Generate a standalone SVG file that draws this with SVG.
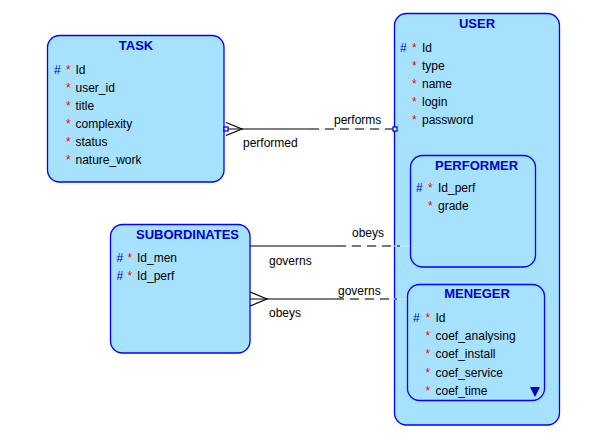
<svg xmlns="http://www.w3.org/2000/svg" width="594" height="448" viewBox="0 0 594 448">
<style>
.box{fill:#a6e1fd;stroke:#0000ff;stroke-width:1.3}
.ttl{font-family:"Liberation Sans",Arial,sans-serif;font-size:13px;font-weight:bold;fill:#0000cc;text-anchor:middle}
.t{font-family:"Liberation Sans",Arial,sans-serif;font-size:12px;fill:#000}
.h{font-family:"Liberation Sans",Arial,sans-serif;font-size:12px;fill:#0000cc}
.s{font-family:"Liberation Sans",Arial,sans-serif;font-size:12px;fill:#ff0000}
.lbl{font-family:"Liberation Sans",Arial,sans-serif;font-size:12px;fill:#000}
.ln{stroke:#000;stroke-width:1.2;fill:none}
.lt{stroke:#e4e4e4;stroke-width:1.2;fill:none}
.dash{stroke:#000;stroke-width:1.2;fill:none;stroke-dasharray:9 6}
.sq{fill:#fff;stroke:#0000ff;stroke-width:1.3}
</style>
<rect width="594" height="448" fill="#fff"/>
<g id="USER">
<rect class="box" x="394.5" y="13.5" width="165" height="411.5" rx="12"/>
<text class="ttl" x="477" y="28">USER</text>
<text class="h" x="400" y="52">#</text><text class="s" x="412" y="52">*</text><text class="t" x="422" y="52">Id</text>
<text class="s" x="412" y="70">*</text><text class="t" x="422" y="70">type</text>
<text class="s" x="412" y="88">*</text><text class="t" x="422" y="88">name</text>
<text class="s" x="412" y="106">*</text><text class="t" x="422" y="106">login</text>
<text class="s" x="412" y="124">*</text><text class="t" x="422" y="124">password</text>
</g>
<g id="PERFORMER">
<rect class="box" x="410.5" y="155.5" width="125" height="111.5" rx="12"/>
<text class="ttl" x="476.5" y="170">PERFORMER</text>
<text class="h" x="416" y="192">#</text><text class="s" x="428" y="192">*</text><text class="t" x="438" y="192">Id_perf</text>
<text class="s" x="428" y="210">*</text><text class="t" x="438" y="210">grade</text>
</g>
<g id="MENEGER">
<rect class="box" x="407.5" y="284.5" width="137" height="116" rx="12"/>
<text class="ttl" x="477" y="298">MENEGER</text>
<text class="h" x="413" y="322">#</text><text class="s" x="425.5" y="322">*</text><text class="t" x="435.5" y="322">Id</text>
<text class="s" x="425.5" y="340">*</text><text class="t" x="435.5" y="340">coef_analysing</text>
<text class="s" x="425.5" y="358">*</text><text class="t" x="435.5" y="358">coef_install</text>
<text class="s" x="425.5" y="377">*</text><text class="t" x="435.5" y="377">coef_service</text>
<text class="s" x="425.5" y="395">*</text><text class="t" x="435.5" y="395">coef_time</text>
<path d="M530,387 L540,387 L535,397 Z" fill="#0000cc"/>
</g>
<g id="TASK">
<rect class="box" x="47.5" y="35.5" width="176.5" height="146.5" rx="12"/>
<text class="ttl" x="136" y="50">TASK</text>
<text class="h" x="54" y="74">#</text><text class="s" x="66" y="74">*</text><text class="t" x="75.5" y="74">Id</text>
<text class="s" x="66" y="92">*</text><text class="t" x="75.5" y="92">user_id</text>
<text class="s" x="66" y="110">*</text><text class="t" x="75.5" y="110">title</text>
<text class="s" x="66" y="128">*</text><text class="t" x="75.5" y="128">complexity</text>
<text class="s" x="66" y="146">*</text><text class="t" x="75.5" y="146">status</text>
<text class="s" x="66" y="164">*</text><text class="t" x="75.5" y="164">nature_work</text>
</g>
<g id="SUBORDINATES">
<rect class="box" x="110.5" y="224.5" width="139.5" height="128.5" rx="12"/>
<text class="ttl" x="187.5" y="239">SUBORDINATES</text>
<text class="h" x="116.5" y="262">#</text><text class="s" x="127.5" y="262">*</text><text class="t" x="137" y="262">Id_men</text>
<text class="h" x="116.5" y="280">#</text><text class="s" x="127.5" y="280">*</text><text class="t" x="137" y="280">Id_perf</text>
</g>
<g id="connectors">
<!-- TASK - USER -->
<line class="lt" x1="310" y1="129" x2="394" y2="129"/>
<line class="ln" x1="226" y1="129" x2="310" y2="129"/>
<line class="dash" x1="310" y1="129" x2="393" y2="129"/>
<polyline class="ln" points="226,122.5 242,129 226,135.5"/>
<rect class="sq" x="224" y="127" width="4" height="4"/>
<rect class="sq" x="393" y="127" width="4" height="4"/>
<text class="lbl" x="334" y="124">performs</text>
<text class="lbl" x="243" y="147">performed</text>
<!-- SUBORDINATES - PERFORMER -->
<line class="lt" x1="337" y1="246" x2="410" y2="246"/>
<line class="ln" x1="250" y1="246" x2="337" y2="246"/>
<line class="dash" x1="337" y1="246" x2="400" y2="246"/>
<text class="lbl" x="352" y="237">obeys</text>
<text class="lbl" x="269" y="265">governs</text>
<!-- SUBORDINATES - MENEGER -->
<line class="lt" x1="335" y1="299" x2="407" y2="299"/>
<line class="ln" x1="250" y1="299" x2="335" y2="299"/>
<line class="dash" x1="335" y1="299" x2="397" y2="299"/>
<polyline class="ln" points="250,292 267,299 250,306"/>
<text class="lbl" x="338" y="295">governs</text>
<text class="lbl" x="269" y="317">obeys</text>
</g>
</svg>
